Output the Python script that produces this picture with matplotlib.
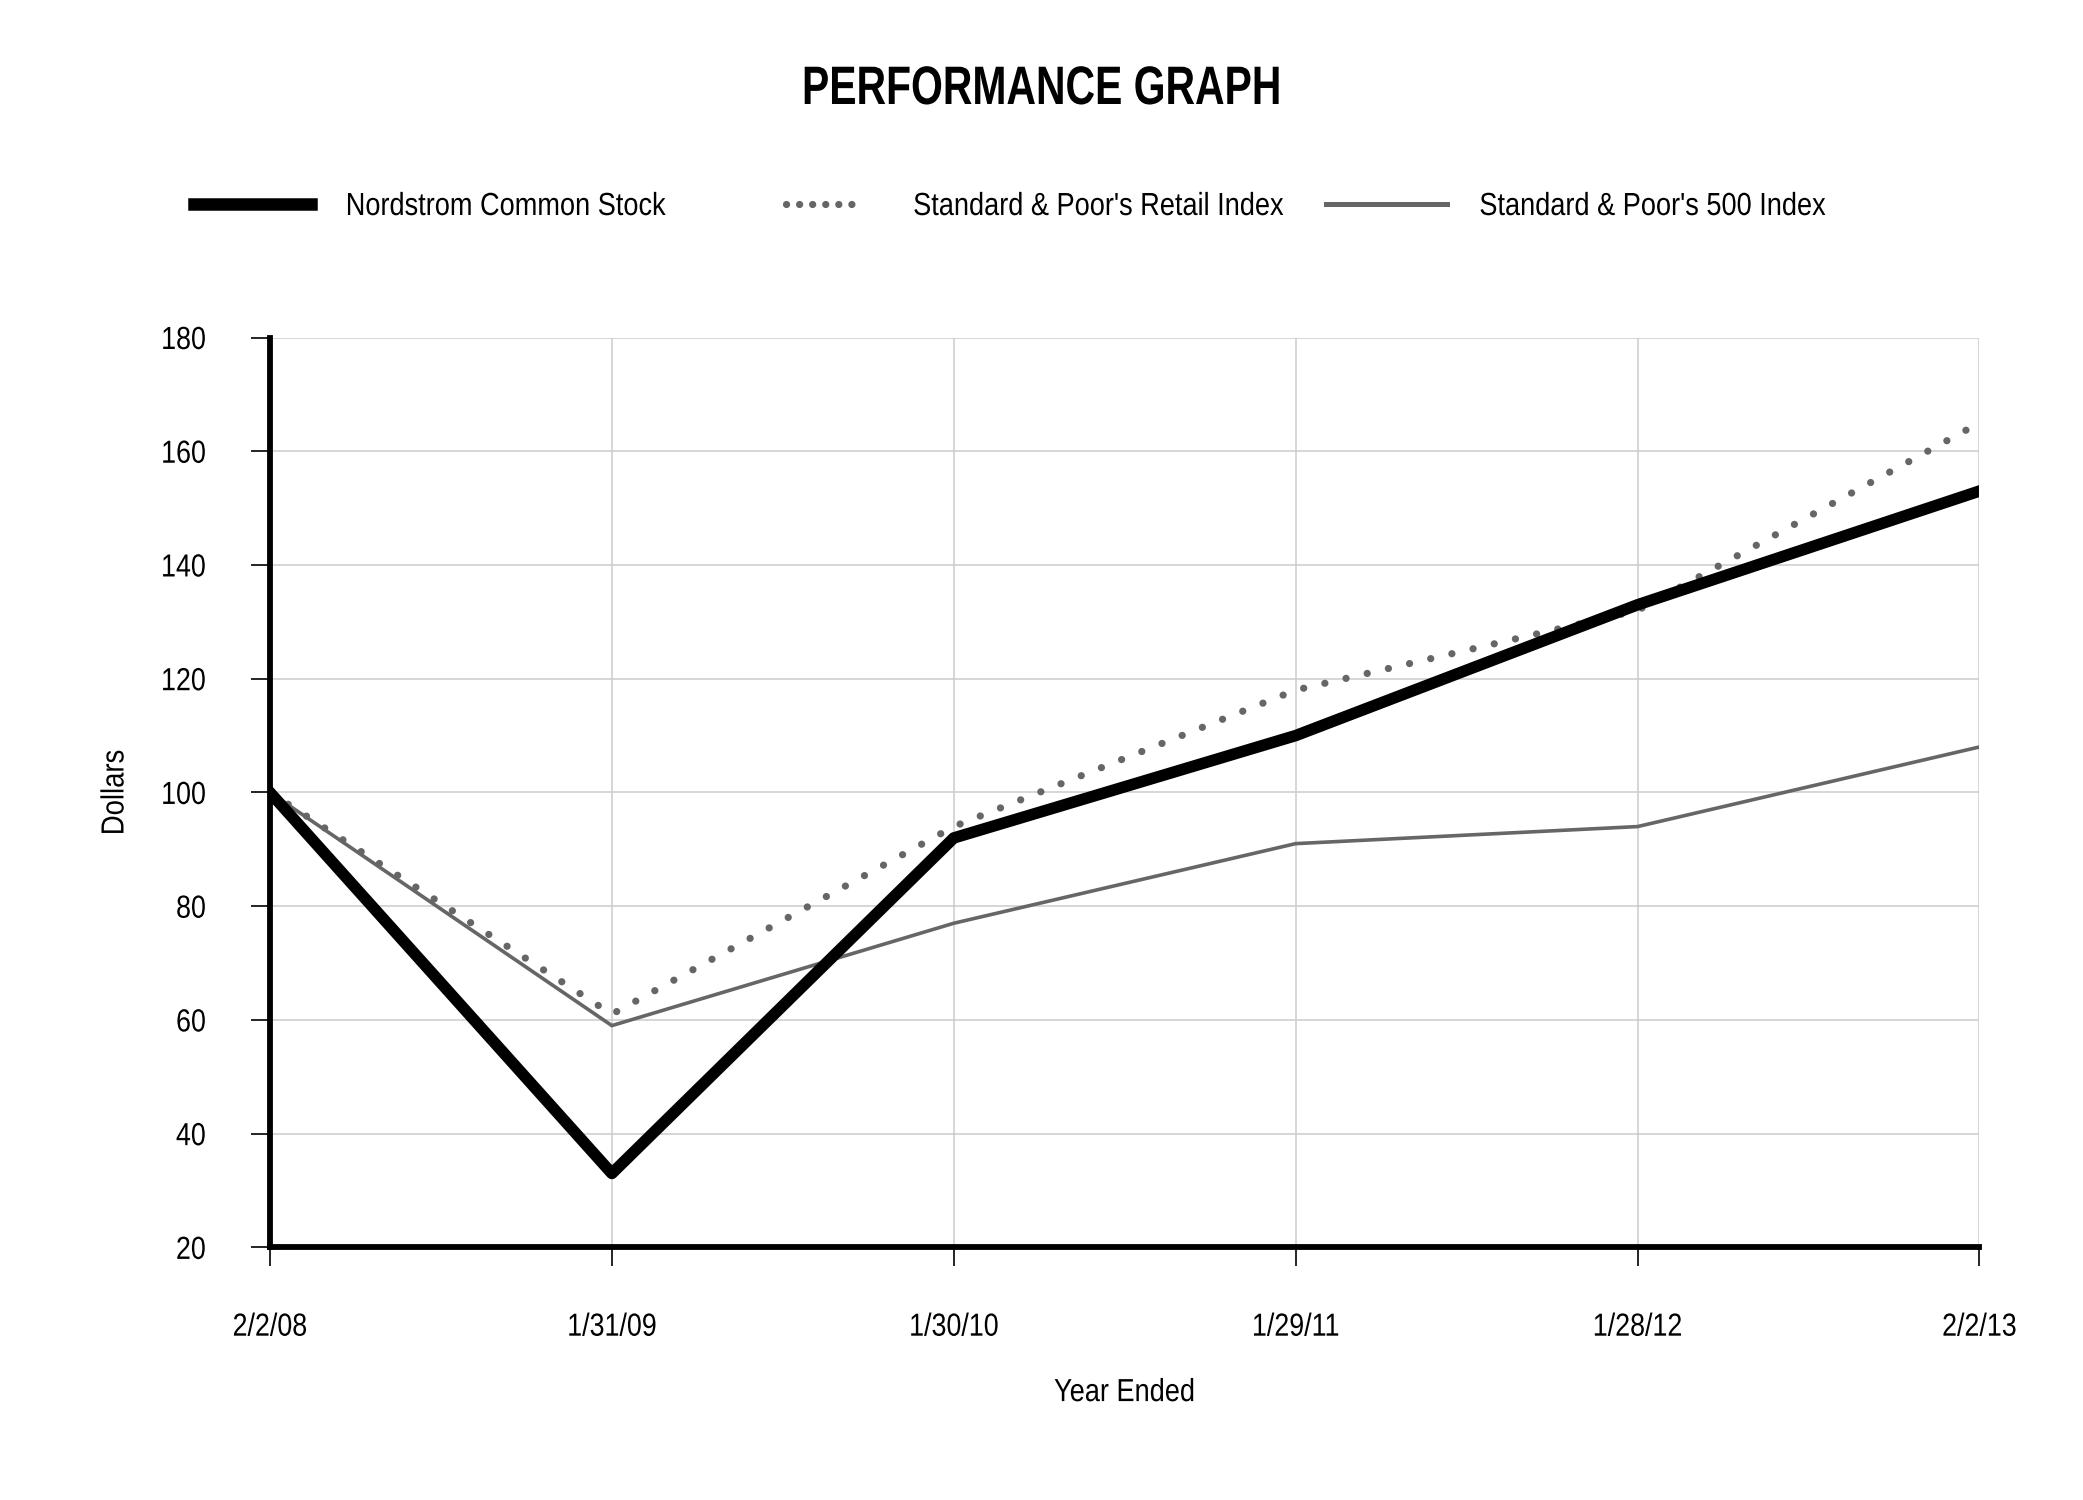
import matplotlib
matplotlib.use("Agg")
import matplotlib.pyplot as plt
from matplotlib import patheffects
from matplotlib.lines import Line2D
from matplotlib.transforms import Affine2D

# data
dates = ["2/2/08", "1/31/09", "1/30/10", "1/29/11", "1/28/12", "2/2/13"]
nordstrom = [100, 33, 92, 110, 133, 153]
retail = [100, 61, 94, 118, 132, 165]
sp500 = [100, 59, 77, 91, 94, 108]

plt.rcParams["font.family"] = ["Liberation Sans", "DejaVu Sans"]


class Narrow(patheffects.AbstractPathEffect):
    """Squeeze text horizontally to fake a narrow typeface."""

    def __init__(self, sx=0.84, anchor="left"):
        super().__init__()
        self.sx = sx
        self.anchor = anchor

    def draw_path(self, renderer, gc, tpath, affine, rgbFace=None):
        ext = tpath.get_extents()
        cx = {"left": 0.0, "center": (ext.x0 + ext.x1) / 2, "right": ext.x1}[self.anchor]
        t = Affine2D().translate(-cx, 0).scale(self.sx, 1).translate(cx, 0) + affine
        renderer.draw_path(gc, tpath, t, rgbFace)


GRAY = "#666666"
DOTS = (0, (0.01, 3.0))

fig = plt.figure(figsize=(20.83, 15), dpi=100)
ax = fig.add_axes([0.1296, 0.1684, 0.9503 - 0.1296, 0.775 - 0.1684])

x = list(range(len(dates)))
ax.plot(x, sp500, color=GRAY, lw=2.6, zorder=3)
ax.plot(x, retail, color=GRAY, lw=5.2, linestyle=DOTS,
        dash_capstyle="round", zorder=4)
ax.plot(x, nordstrom, color="black", lw=8.3, zorder=5)

ax.set_xlim(0, len(dates) - 1)
ax.set_ylim(20, 180)
ax.set_yticks(range(20, 181, 20))
ax.set_xticks(x)
ax.set_xticklabels(dates)
ax.grid(True, color="#cccccc", lw=1.1, zorder=0)

for s in ["top", "right"]:
    ax.spines[s].set_visible(False)
for s in ["left", "bottom"]:
    ax.spines[s].set_linewidth(4.2)
    ax.spines[s].set_zorder(6)

ax.tick_params(axis="both", direction="out", length=14, width=1.2,
               labelsize=23, color="black")
ax.tick_params(axis="x", pad=33)
ax.tick_params(axis="y", pad=32)
for lbl in ax.get_xticklabels():
    lbl.set_path_effects([Narrow(0.84, "center")])
for lbl in ax.get_yticklabels():
    lbl.set_path_effects([Narrow(0.84, "right")])

ax.set_ylabel("Dollars", fontsize=23, labelpad=16,
              path_effects=[Narrow(0.86, "center")])
ax.set_xlabel("Year Ended", fontsize=23, labelpad=25.5,
              path_effects=[Narrow(0.85, "center")])

fig.text(0.5, 0.94, "PERFORMANCE GRAPH", ha="center", va="center",
         fontsize=39, fontweight="bold", path_effects=[Narrow(0.755, "center")])

# legend, one entry per box to match spacing
entries = [
    (Line2D([], [], color="black", lw=9), "Nordstrom Common Stock", 194, 3.65, 1.1),
    (Line2D([], [], color=GRAY, lw=5.2, linestyle=(0, (0.01, 1.8)),
            dash_capstyle="round"),
     "Standard & Poor's Retail Index", 786, 2.3, 1.68),
    (Line2D([], [], color=GRAY, lw=3.6), "Standard & Poor's 500 Index", 1326, 3.8, 1.0),
]
for handle, label, xpx, hl, tp in entries:
    leg = fig.legend(handles=[handle], labels=[label], loc="center left",
                     bbox_to_anchor=(xpx / 2083, 1 - 207 / 1500), frameon=False,
                     fontsize=23, handlelength=hl, handletextpad=tp,
                     borderaxespad=0, borderpad=0)
    for t in leg.get_texts():
        t.set_path_effects([Narrow(0.85, "left")])

fig.savefig("out.png", dpi=100)
